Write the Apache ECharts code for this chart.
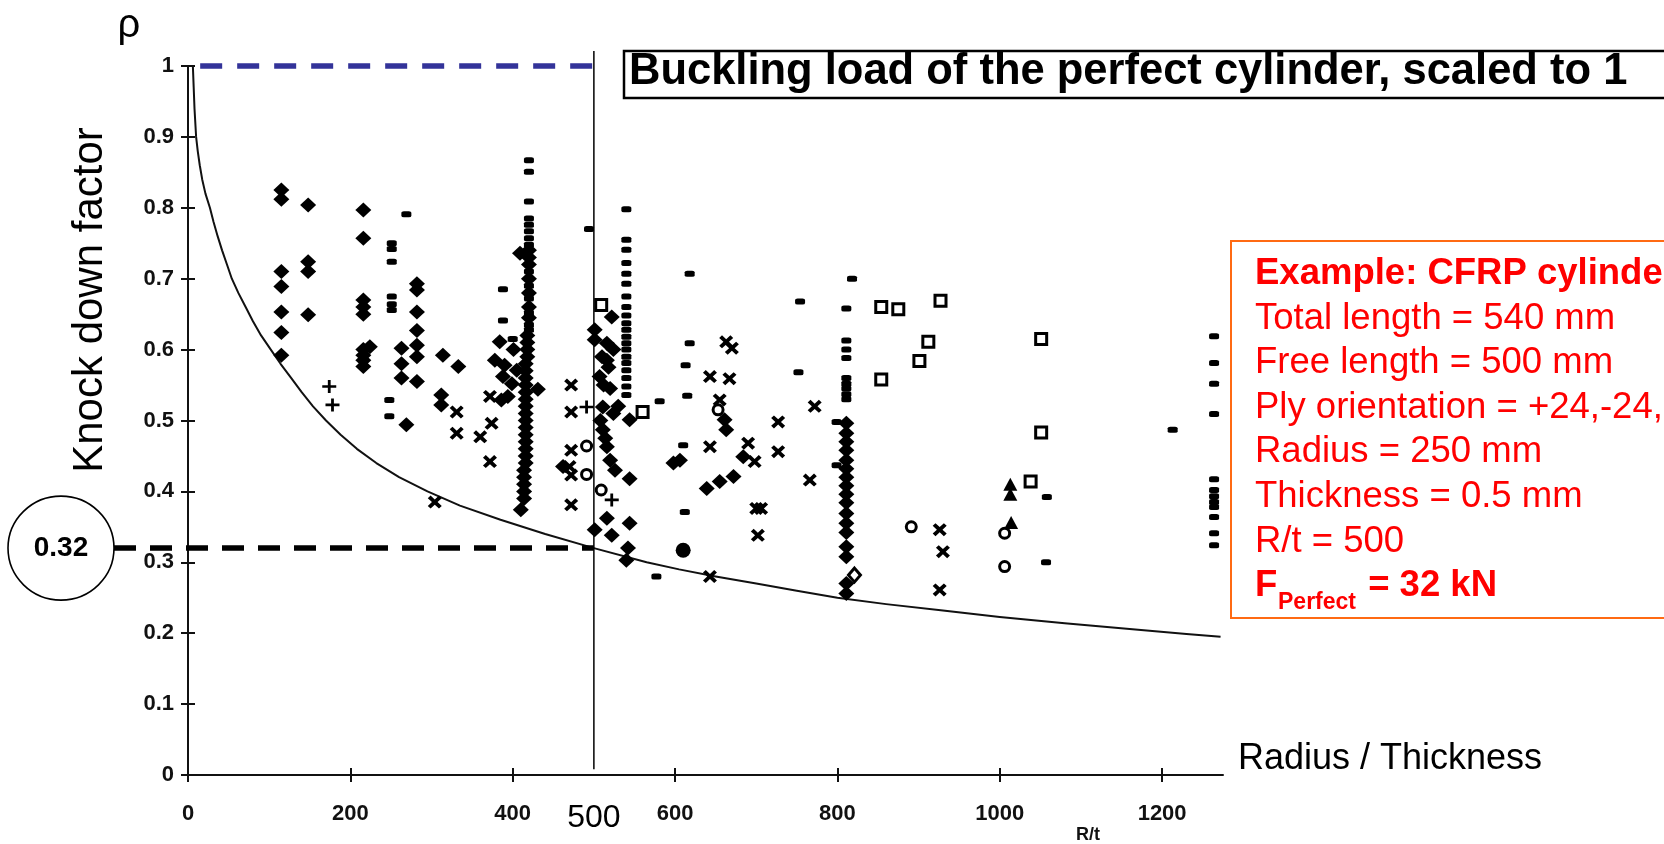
<!DOCTYPE html>
<html>
<head>
<meta charset="utf-8">
<title>Knock down factor vs. Radius / Thickness</title>
<script src="https://cdn.jsdelivr.net/npm/echarts@6/dist/echarts.min.js"></script>
<style>
  html, body { margin: 0; padding: 0; background: #ffffff; }
  #chart { width: 1664px; height: 844px; }
</style>
</head>
<body>
<div id="chart"></div>
<script>
// ---- axis ticks ----
const xTicks = [0, 200, 400, 600, 800, 1000, 1200];
const yTicks = [0, 0.1, 0.2, 0.3, 0.4, 0.5, 0.6, 0.7, 0.8, 0.9, 1];

// ---- lower-bound design curve (R/t, rho) ----
const curvePts = [
  [6, 1.0], [7, 0.97], [8, 0.94], [10, 0.9], [12, 0.88], [14.5, 0.86], [17.5, 0.84], [21.5, 0.82],
  [27, 0.8], [31.5, 0.78], [36.5, 0.76], [42, 0.74], [48, 0.72], [54, 0.7], [62, 0.68], [71, 0.66],
  [80, 0.64], [90, 0.62], [102, 0.6], [114, 0.58], [127, 0.56], [140, 0.54], [154, 0.52],
  [170, 0.5], [188, 0.48], [208, 0.46], [232, 0.44], [260, 0.42], [295, 0.4], [335, 0.38],
  [385, 0.36], [440, 0.34], [500, 0.32], [565, 0.3], [605, 0.29], [650, 0.28], [700, 0.27],
  [750, 0.26], [800, 0.25], [860, 0.241], [930, 0.232], [1000, 0.223], [1080, 0.214],
  [1160, 0.206], [1230, 0.199], [1272, 0.195]
];

// ---- test results, grouped by marker ----
const diamondPts = [
  [115, 0.825], [115, 0.812], [115, 0.71], [115, 0.689], [115, 0.653], [115, 0.624], [115, 0.592],
  [148, 0.804], [148, 0.724], [148, 0.71], [148, 0.649],
  [216, 0.797], [216, 0.757], [216, 0.67], [216, 0.66], [216, 0.65], [216, 0.6], [216, 0.592],
  [216, 0.585], [216, 0.576], [224, 0.604],
  [282, 0.693], [282, 0.684], [282, 0.653], [282, 0.627], [282, 0.606], [282, 0.59], [282, 0.555],
  [263, 0.602], [263, 0.58], [263, 0.56], [269, 0.494],
  [314, 0.592], [333, 0.576], [312, 0.536], [312, 0.522],
  [384, 0.611], [378, 0.585], [390, 0.578], [401, 0.6], [388, 0.562], [399, 0.552], [405, 0.571],
  [386, 0.529], [394, 0.534],
  [420, 0.74], [420, 0.73], [420, 0.72], [420, 0.70], [420, 0.68], [420, 0.66], [420, 0.645],
  [418, 0.62], [418, 0.61], [418, 0.6], [418, 0.59], [416, 0.58], [416, 0.57], [416, 0.56],
  [416, 0.55], [416, 0.54], [416, 0.53], [416, 0.52], [416, 0.51], [416, 0.5], [416, 0.49],
  [416, 0.48], [416, 0.47], [416, 0.46], [416, 0.45], [416, 0.44], [414, 0.43], [414, 0.42],
  [414, 0.41], [414, 0.4], [414, 0.39], [410, 0.374], [409, 0.736], [431, 0.544],
  [462, 0.435],
  [522, 0.646], [501, 0.628], [501, 0.614], [516, 0.609], [524, 0.6], [516, 0.585], [507, 0.562],
  [520, 0.545], [511, 0.519], [524, 0.51], [544, 0.501], [511, 0.487], [516, 0.463], [520, 0.444],
  [526, 0.43], [544, 0.418], [516, 0.362], [544, 0.355], [501, 0.346], [522, 0.338], [542, 0.32],
  [540, 0.303], [510, 0.59], [512, 0.55], [508, 0.5], [514, 0.475], [530, 0.52], [518, 0.575],
  [606, 0.444], [598, 0.44],
  [661, 0.501], [663, 0.487], [684, 0.449], [639, 0.404], [655, 0.414], [672, 0.421],
  [811, 0.496], [811, 0.482], [811, 0.47], [811, 0.458], [811, 0.444], [811, 0.432], [811, 0.42],
  [811, 0.408], [811, 0.396], [811, 0.384], [811, 0.369], [811, 0.355], [811, 0.342], [811, 0.322],
  [811, 0.308], [811, 0.27], [811, 0.256]
];

const dashPts = [
  [251, 0.75], [251, 0.742], [251, 0.724], [251, 0.675], [251, 0.664], [251, 0.656],
  [248, 0.529], [248, 0.506], [269, 0.791],
  [388, 0.685], [388, 0.641], [400, 0.615],
  [420, 0.867], [420, 0.851], [420, 0.809], [420, 0.785], [420, 0.776], [420, 0.767], [420, 0.757],
  [420, 0.748], [420, 0.71], [420, 0.69], [420, 0.672], [420, 0.652], [420, 0.635], [420, 0.628],
  [494, 0.77],
  [540, 0.798], [540, 0.755], [540, 0.741], [540, 0.722], [540, 0.707], [540, 0.693], [540, 0.675],
  [540, 0.66], [540, 0.648], [540, 0.637], [540, 0.628], [540, 0.618], [540, 0.609], [540, 0.6],
  [540, 0.59], [540, 0.581], [540, 0.571], [540, 0.56], [540, 0.548], [540, 0.536],
  [618, 0.707], [618, 0.609], [613, 0.578], [615, 0.535], [581, 0.527], [612, 0.371], [577, 0.28],
  [610, 0.465],
  [754, 0.668], [752, 0.568],
  [818, 0.7], [811, 0.658], [811, 0.613], [811, 0.6], [811, 0.588], [811, 0.56], [811, 0.552],
  [811, 0.545], [811, 0.537], [811, 0.53], [799, 0.498], [799, 0.437],
  [1058, 0.392], [1057, 0.3], [1213, 0.487],
  [1264, 0.619], [1264, 0.581], [1264, 0.552], [1264, 0.509], [1264, 0.417], [1264, 0.402],
  [1264, 0.393], [1264, 0.385], [1264, 0.378], [1264, 0.364], [1264, 0.341], [1264, 0.324]
];

const crossPts = [
  [304, 0.385], [331, 0.512], [331, 0.482], [372, 0.534], [374, 0.496], [360, 0.477], [372, 0.442],
  [472, 0.55], [472, 0.512], [472, 0.458], [470, 0.435], [472, 0.423], [472, 0.381],
  [663, 0.611], [670, 0.602], [643, 0.562], [667, 0.559], [655, 0.529], [643, 0.463], [690, 0.468],
  [698, 0.442], [727, 0.498], [727, 0.456], [772, 0.52], [766, 0.416], [700, 0.376], [706, 0.376],
  [702, 0.338], [643, 0.28],
  [926, 0.346], [930, 0.315], [926, 0.261]
];

const plusPts = [[174, 0.548], [178, 0.522], [491, 0.519], [522, 0.388]];

const openSquarePts = [
  [509, 0.663], [560, 0.512], [854, 0.66], [875, 0.657], [927, 0.669], [912, 0.611],
  [901, 0.584], [854, 0.558], [1051, 0.615], [1051, 0.483], [1038, 0.414]
];

const openCirclePts = [
  [491, 0.464], [491, 0.424], [509, 0.402], [653, 0.515], [891, 0.35], [1006, 0.341], [1006, 0.294]
];

const openDiamondPts = [[821, 0.282]];
const trianglePts = [[1013, 0.41], [1013, 0.396], [1014, 0.356]];
const dotPts = [[610, 0.317]];

// ---- worked example ----
const exampleRt = 500;
const exampleRho = 0.32;
const exampleLines = [
  'Total length = 540 mm',
  'Free length = 500 mm',
  'Ply orientation = +24,-24,',
  'Radius = 250 mm',
  'Thickness = 0.5 mm',
  'R/t = 500'
];

const tickFont = "'Liberation Sans', Arial, sans-serif";
const textFont = "'Liberation Sans', Arial, sans-serif";

const chart = echarts.init(document.getElementById('chart'), null, { renderer: 'canvas' });

const crossPath = 'path://M0,2L2,0L5,3L8,0L10,2L7,5L10,8L8,10L5,7L2,10L0,8L3,5Z';
const plusPath = 'path://M4,0H6V4H10V6H6V10H4V6H0V4H4Z';

function tickLabel() {
  return { fontFamily: tickFont, fontWeight: 'bold', fontSize: 22, color: '#111', formatter: v => String(v) };
}

const ink = { color: '#000', opacity: 1 };

chart.setOption({
  animation: false,
  backgroundColor: '#ffffff',
  grid: { left: 188, top: 66, width: 1035, height: 709, containLabel: false },
  xAxis: [
    {
      type: 'value', min: 0, max: 1275, position: 'bottom',
      axisLine: { show: true, onZero: false, lineStyle: { color: '#111', width: 2 } },
      axisTick: { show: true, customValues: xTicks, length: 7, lineStyle: { color: '#111', width: 2 } },
      axisLabel: Object.assign({ customValues: xTicks, margin: 28 }, tickLabel()),
      splitLine: { show: false }
    },
    {
      type: 'value', min: 0, max: 1275, position: 'bottom',
      axisLine: { show: false },
      axisTick: { show: true, inside: true, customValues: xTicks, length: 7, lineStyle: { color: '#111', width: 2 } },
      axisLabel: { show: false },
      splitLine: { show: false }
    }
  ],
  yAxis: [
    {
      type: 'value', min: 0, max: 1, position: 'left',
      axisLine: { show: true, onZero: false, lineStyle: { color: '#111', width: 2 } },
      axisTick: { show: true, customValues: yTicks, length: 7, lineStyle: { color: '#111', width: 2 } },
      axisLabel: Object.assign({ customValues: yTicks, margin: 14 }, tickLabel()),
      splitLine: { show: false }
    },
    {
      type: 'value', min: 0, max: 1, position: 'left',
      axisLine: { show: false },
      axisTick: { show: true, inside: true, customValues: yTicks, length: 7, lineStyle: { color: '#111', width: 2 } },
      axisLabel: { show: false },
      splitLine: { show: false }
    }
  ],
  series: [
    {
      name: 'design curve', type: 'line', data: curvePts, xAxisIndex: 0, yAxisIndex: 0,
      smooth: false, showSymbol: false, symbol: 'none',
      lineStyle: { color: '#111', width: 2, join: 'round' }, z: 2
    },
    { type: 'scatter', data: diamondPts, symbol: 'diamond', symbolSize: [16, 15], itemStyle: ink, z: 3 },
    { type: 'scatter', data: dashPts, symbol: 'roundRect', symbolSize: [10, 6], itemStyle: ink, z: 3 },
    { type: 'scatter', data: crossPts, symbol: crossPath, symbolSize: [14, 13], itemStyle: ink, z: 3 },
    { type: 'scatter', data: plusPts, symbol: plusPath, symbolSize: [14, 13], itemStyle: ink, z: 3 },
    {
      type: 'scatter', data: openSquarePts, symbol: 'rect', symbolSize: 11,
      itemStyle: { color: '#fff', borderColor: '#000', borderWidth: 3, opacity: 1 }, z: 4
    },
    {
      type: 'scatter', data: openCirclePts, symbol: 'circle', symbolSize: 10,
      itemStyle: { color: '#fff', borderColor: '#000', borderWidth: 3, opacity: 1 }, z: 4
    },
    {
      type: 'scatter', data: openDiamondPts, symbol: 'diamond', symbolSize: [12, 14],
      itemStyle: { color: '#fff', borderColor: '#000', borderWidth: 3, opacity: 1 }, z: 4
    },
    { type: 'scatter', data: trianglePts, symbol: 'triangle', symbolSize: [14, 13], itemStyle: ink, z: 3 },
    { type: 'scatter', data: dotPts, symbol: 'circle', symbolSize: 15, itemStyle: ink, z: 3 }
  ]
});

// ---- annotations, placed through the axis scales ----
function px(x, y) { return chart.convertToPixel({ seriesIndex: 0 }, [x, y]); }

const pTopL = px(15, 1);
const pTopR = px(513, 1);
const pEx = px(exampleRt, exampleRho);
const pExBase = px(exampleRt, 0.008);
const circle = { cx: 61, cy: pEx[1], rx: 53, ry: 52 };

const redFont = 36.5;
const redTop = 274, redStep = 44.6;

const graphics = [
  // perfect-cylinder level
  { type: 'line', z: 10, shape: { x1: pTopL[0], y1: pTopL[1], x2: pTopR[0], y2: pTopR[1] },
    style: { stroke: '#333399', lineWidth: 5.5, lineDash: [22, 15] } },
  // example R/t marker line
  { type: 'line', z: 10, shape: { x1: pEx[0], y1: 51, x2: pEx[0], y2: pExBase[1] },
    style: { stroke: '#000', lineWidth: 1.5 } },
  // example knock-down level
  { type: 'line', z: 10, shape: { x1: circle.cx + circle.rx, y1: pEx[1], x2: pEx[0], y2: pEx[1] },
    style: { stroke: '#000', lineWidth: 5.5, lineDash: [22, 14] } },
  { type: 'ellipse', z: 10, shape: circle, style: { fill: '#fff', stroke: '#000', lineWidth: 1.6 } },
  { type: 'text', z: 11, x: circle.cx, y: circle.cy,
    style: { text: '0.32', fill: '#000', font: 'bold 28px ' + textFont, align: 'center', verticalAlign: 'middle' } },
  { type: 'text', z: 11, x: pEx[0], y: 818,
    style: { text: '500', fill: '#000', font: '32px ' + textFont, align: 'center', verticalAlign: 'middle' } },
  // title box
  { type: 'rect', z: 10, shape: { x: 624, y: 51, width: 1100, height: 47 },
    style: { fill: '#fff', stroke: '#000', lineWidth: 2.5 } },
  { type: 'text', z: 11, x: 629, y: 72,
    style: { text: 'Buckling load of the perfect cylinder, scaled to 1', fill: '#000',
      font: 'bold 43.5px ' + textFont, align: 'left', verticalAlign: 'middle' } },
  // example box
  { type: 'rect', z: 10, shape: { x: 1231, y: 241, width: 500, height: 377 },
    style: { fill: '#fff', stroke: '#ff6a13', lineWidth: 2 } },
  { type: 'text', z: 11, x: 1255, y: redTop,
    style: { text: 'Example: CFRP cylinder', fill: '#ff0000', font: 'bold ' + redFont + 'px ' + textFont,
      align: 'left', verticalAlign: 'middle' } }
];

exampleLines.forEach((t, i) => {
  graphics.push({ type: 'text', z: 11, x: 1255, y: redTop + redStep * (i + 1),
    style: { text: t, fill: '#ff0000', font: redFont + 'px ' + textFont, align: 'left', verticalAlign: 'middle' } });
});

const fY = redTop + redStep * 7;
graphics.push(
  { type: 'text', z: 11, x: 1255, y: fY,
    style: { text: 'F', fill: '#ff0000', font: 'bold ' + redFont + 'px ' + textFont, align: 'left', verticalAlign: 'middle' } },
  { type: 'text', z: 11, x: 1278, y: fY + 16,
    style: { text: 'Perfect', fill: '#ff0000', font: 'bold 23px ' + textFont, align: 'left', verticalAlign: 'middle' } },
  { type: 'text', z: 11, x: 1358, y: fY,
    style: { text: ' = 32 kN', fill: '#ff0000', font: 'bold ' + redFont + 'px ' + textFont, align: 'left', verticalAlign: 'middle' } },
  // axis titles
  { type: 'text', z: 11, x: 90, y: 300, rotation: Math.PI / 2,
    style: { text: 'Knock down factor', fill: '#000', font: '42px ' + textFont, align: 'center', verticalAlign: 'middle' } },
  { type: 'text', z: 11, x: 129, y: 26,
    style: { text: 'ρ', fill: '#000', font: '40px ' + textFont, align: 'center', verticalAlign: 'middle' } },
  { type: 'text', z: 11, x: 1238, y: 759,
    style: { text: 'Radius / Thickness', fill: '#000', font: '36px ' + textFont, align: 'left', verticalAlign: 'middle' } },
  { type: 'text', z: 11, x: 1088, y: 835,
    style: { text: 'R/t', fill: '#111', font: 'bold 18px ' + tickFont, align: 'center', verticalAlign: 'middle' } }
);

chart.setOption({ graphic: graphics });
</script>
</body>
</html>
